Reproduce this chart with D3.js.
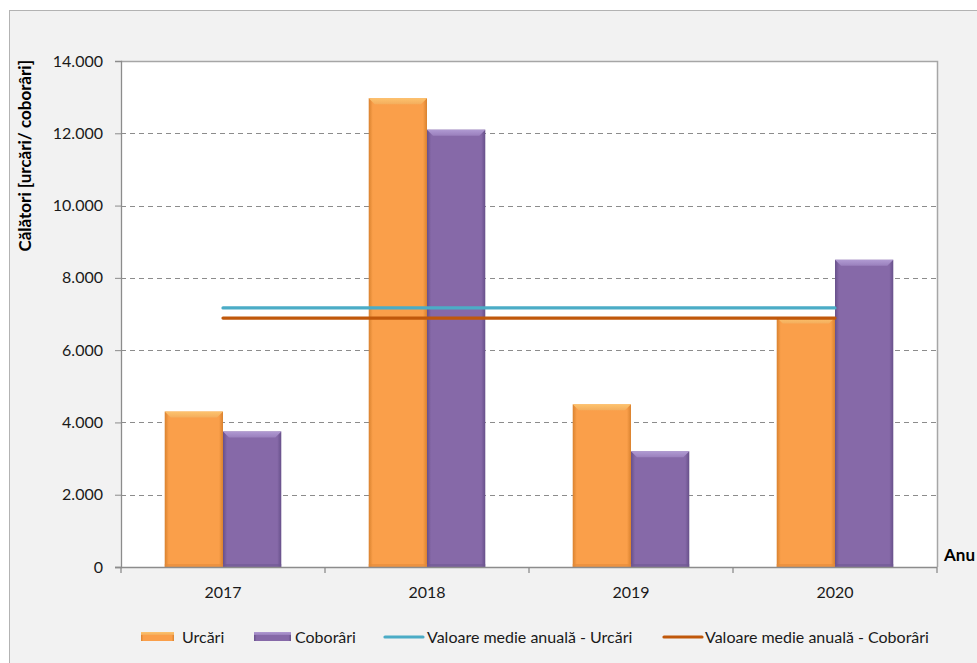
<!DOCTYPE html>
<html>
<head>
<meta charset="utf-8">
<script src="https://cdn.jsdelivr.net/npm/d3@7"></script>
<style>
  html, body { margin: 0; padding: 0; background: #ffffff; }
  svg { display: block; font-family: Lato, "Open Sans", sans-serif; }
</style>
</head>
<body>
<svg id="chart" width="977" height="663"></svg>
<script>
// ---- data ----
const years = ["2017", "2018", "2019", "2020"];
const urcari = [4300, 12970, 4500, 6900];
const coborari = [3750, 12100, 3200, 8500];
const yTicks = [0, 2000, 4000, 6000, 8000, 10000, 12000, 14000];
const seriesNames = ["Urcări", "Coborâri"];
const lineNames = ["Valoare medie anuală - Urcări", "Valoare medie anuală - Coborâri"];
const yTitle = "Călători [urcări/ coborâri]";
const xTitle = "Anu";

const meanUrcari = d3.mean(urcari);
const meanCoborari = d3.mean(coborari);

// ---- layout ----
const svg = d3.select("#chart");
const plot = { left: 121, right: 937, top: 61, bottom: 567 };

// outer chart area
svg.append("rect").attr("x", 9.5).attr("y", 10.5).attr("width", 1000).attr("height", 700)
  .attr("fill", "#f2f2f2").attr("stroke", "#b3b3b3").attr("stroke-width", 1);

// plot background
svg.append("rect").attr("x", plot.left).attr("y", plot.top)
  .attr("width", plot.right - plot.left).attr("height", plot.bottom - plot.top)
  .attr("fill", "#ffffff");

const x0 = d3.scaleBand().domain(years).range([plot.left, plot.right]).padding(0);
const bw = x0.bandwidth();
const barW = bw / 3.5;
const x1 = d3.scaleBand().domain(seriesNames).range([bw / 2 - barW, bw / 2 + barW]).padding(0);
const y = d3.scaleLinear().domain([0, 14000]).range([plot.bottom, plot.top]);

const locale = d3.formatLocale({ decimal: ",", thousands: ".", grouping: [3], currency: ["", ""] });
const fmt = locale.format(",d");

// gridlines
svg.append("g").selectAll("line").data(yTicks.filter(d => d > 0)).join("line")
  .attr("x1", plot.left).attr("x2", plot.right)
  .attr("y1", d => Math.round(y(d)) + 0.5).attr("y2", d => Math.round(y(d)) + 0.5)
  .attr("stroke", "#8c8c8c").attr("stroke-width", 1).attr("stroke-dasharray", "5,4");

// gradients
const defs = svg.append("defs");
const palettes = {
  "Urcări": { base: "#fa9f4a", edge: "#d9822f", top: "#fdc36e", topEdge: "#f4ad5c", bottom: "#e58b3a" },
  "Coborâri": { base: "#8669a8", edge: "#67508a", top: "#b09ad2", topEdge: "#9a80bd", bottom: "#705892" }
};
seriesNames.forEach((s, i) => {
  const p = palettes[s];
  const g = defs.append("linearGradient").attr("id", "body" + i).attr("x1", "0").attr("x2", "1").attr("y1", "0").attr("y2", "0");
  g.append("stop").attr("offset", "0").attr("stop-color", p.edge);
  g.append("stop").attr("offset", "0.07").attr("stop-color", p.base);
  g.append("stop").attr("offset", "0.93").attr("stop-color", p.base);
  g.append("stop").attr("offset", "1").attr("stop-color", p.edge);
  const t = defs.append("linearGradient").attr("id", "top" + i).attr("x1", "0").attr("x2", "0").attr("y1", "0").attr("y2", "1");
  t.append("stop").attr("offset", "0").attr("stop-color", p.top);
  t.append("stop").attr("offset", "1").attr("stop-color", p.topEdge);
});

// bars
const rows = years.map((yr, i) => ({ year: yr, values: [urcari[i], coborari[i]] }));
const groups = svg.append("g").selectAll("g").data(rows).join("g")
  .attr("transform", d => `translate(${x0(d.year)},0)`);

groups.each(function (d) {
  const g = d3.select(this);
  d.values.forEach((v, i) => {
    const s = seriesNames[i];
    const bx = x1(s), w = x1.bandwidth();
    const top = y(v), bot = y(0);
    const bev = 6;
    g.append("rect").attr("x", bx).attr("y", top).attr("width", w).attr("height", bot - top)
      .attr("fill", `url(#body${i})`);
    // top bevel
    g.append("path")
      .attr("d", `M${bx},${top} L${bx + w},${top} L${bx + w - bev},${top + bev} L${bx + bev},${top + bev} Z`)
      .attr("fill", `url(#top${i})`);
    // bottom shading
    g.append("rect").attr("x", bx).attr("y", bot - 3).attr("width", w).attr("height", 3)
      .attr("fill", palettes[s].bottom).attr("opacity", 0.6);
  });
});

// plot border (top/right)
svg.append("path")
  .attr("d", `M${plot.left},${plot.top + 0.5} H${plot.right + 0.5} V${plot.bottom}`)
  .attr("fill", "none").attr("stroke", "#a6a6a6").attr("stroke-width", 1.5);

// axes
const yAxis = d3.axisLeft(y).tickValues(yTicks).tickFormat(fmt).tickSize(6).tickPadding(12);
const gy = svg.append("g").attr("transform", `translate(${plot.left},0)`).call(yAxis);
gy.select(".domain").attr("stroke", "#8c8c8c").attr("stroke-width", 1.3);
gy.selectAll(".tick line").attr("stroke", "#8c8c8c");
gy.selectAll(".tick text").attr("fill", "#1a1a1a").style("font-size", "16px").style("font-family", "Lato, sans-serif");

// x axis line + ticks at category boundaries
const gx = svg.append("g");
gx.append("line").attr("x1", plot.left - 6).attr("x2", plot.right).attr("y1", plot.bottom + 0.5).attr("y2", plot.bottom + 0.5)
  .attr("stroke", "#8c8c8c").attr("stroke-width", 1.3);
const bounds = years.map(d => x0(d)).concat([x0(years[years.length - 1]) + bw]);
gx.selectAll("line.tk").data(bounds).join("line").attr("class", "tk")
  .attr("x1", d => d).attr("x2", d => d).attr("y1", plot.bottom).attr("y2", plot.bottom + 6)
  .attr("stroke", "#8c8c8c").attr("stroke-width", 1.3);
gx.selectAll("text").data(years).join("text")
  .attr("x", d => x0(d) + bw / 2).attr("y", 598)
  .attr("text-anchor", "middle").attr("fill", "#1a1a1a").style("font-size", "16px")
  .text(d => d);

// mean lines
const lineGen = d3.line().x(d => x0(d.year) + bw / 2).y(d => y(d.v));
const meanSeries = [
  { name: lineNames[0], color: "#4bacc6", data: years.map(yr => ({ year: yr, v: meanUrcari })) },
  { name: lineNames[1], color: "#c0580b", data: years.map(yr => ({ year: yr, v: meanCoborari })) }
];
svg.append("g").selectAll("path").data(meanSeries).join("path")
  .attr("d", d => lineGen(d.data)).attr("fill", "none")
  .attr("stroke", d => d.color).attr("stroke-width", 3.2).attr("stroke-linecap", "round");

// axis titles
svg.append("text").attr("transform", "translate(31,60) rotate(-90)")
  .attr("text-anchor", "end").attr("font-weight", "bold").style("font-size", "17px").attr("fill", "#000")
  .text(yTitle);
svg.append("text").attr("x", 944).attr("y", 561).attr("font-weight", "bold")
  .style("font-size", "17px").attr("fill", "#000").text(xTitle);

// legend
const lg = svg.append("g").style("font-size", "16px");
const ly = 637;
const barLegend = [{ x: 141, w: 33, tx: 182 }, { x: 254, w: 37, tx: 295 }];
seriesNames.forEach((s, i) => {
  const b = barLegend[i];
  lg.append("rect").attr("x", b.x).attr("y", ly - 5).attr("width", b.w).attr("height", 9)
    .attr("fill", `url(#body${i})`);
  lg.append("rect").attr("x", b.x).attr("y", ly - 5).attr("width", b.w).attr("height", 3)
    .attr("fill", `url(#top${i})`);
  lg.append("text").attr("x", b.tx).attr("y", ly + 6).attr("fill", "#1a1a1a").text(s);
});
const lineLegend = [{ x1: 385, x2: 423, tx: 427 }, { x1: 664, x2: 702, tx: 705 }];
meanSeries.forEach((m, i) => {
  const l = lineLegend[i];
  lg.append("line").attr("x1", l.x1).attr("x2", l.x2).attr("y1", ly).attr("y2", ly)
    .attr("stroke", m.color).attr("stroke-width", 3.2).attr("stroke-linecap", "round");
  lg.append("text").attr("x", l.tx).attr("y", ly + 6).attr("fill", "#1a1a1a").text(m.name);
});
</script>
</body>
</html>
